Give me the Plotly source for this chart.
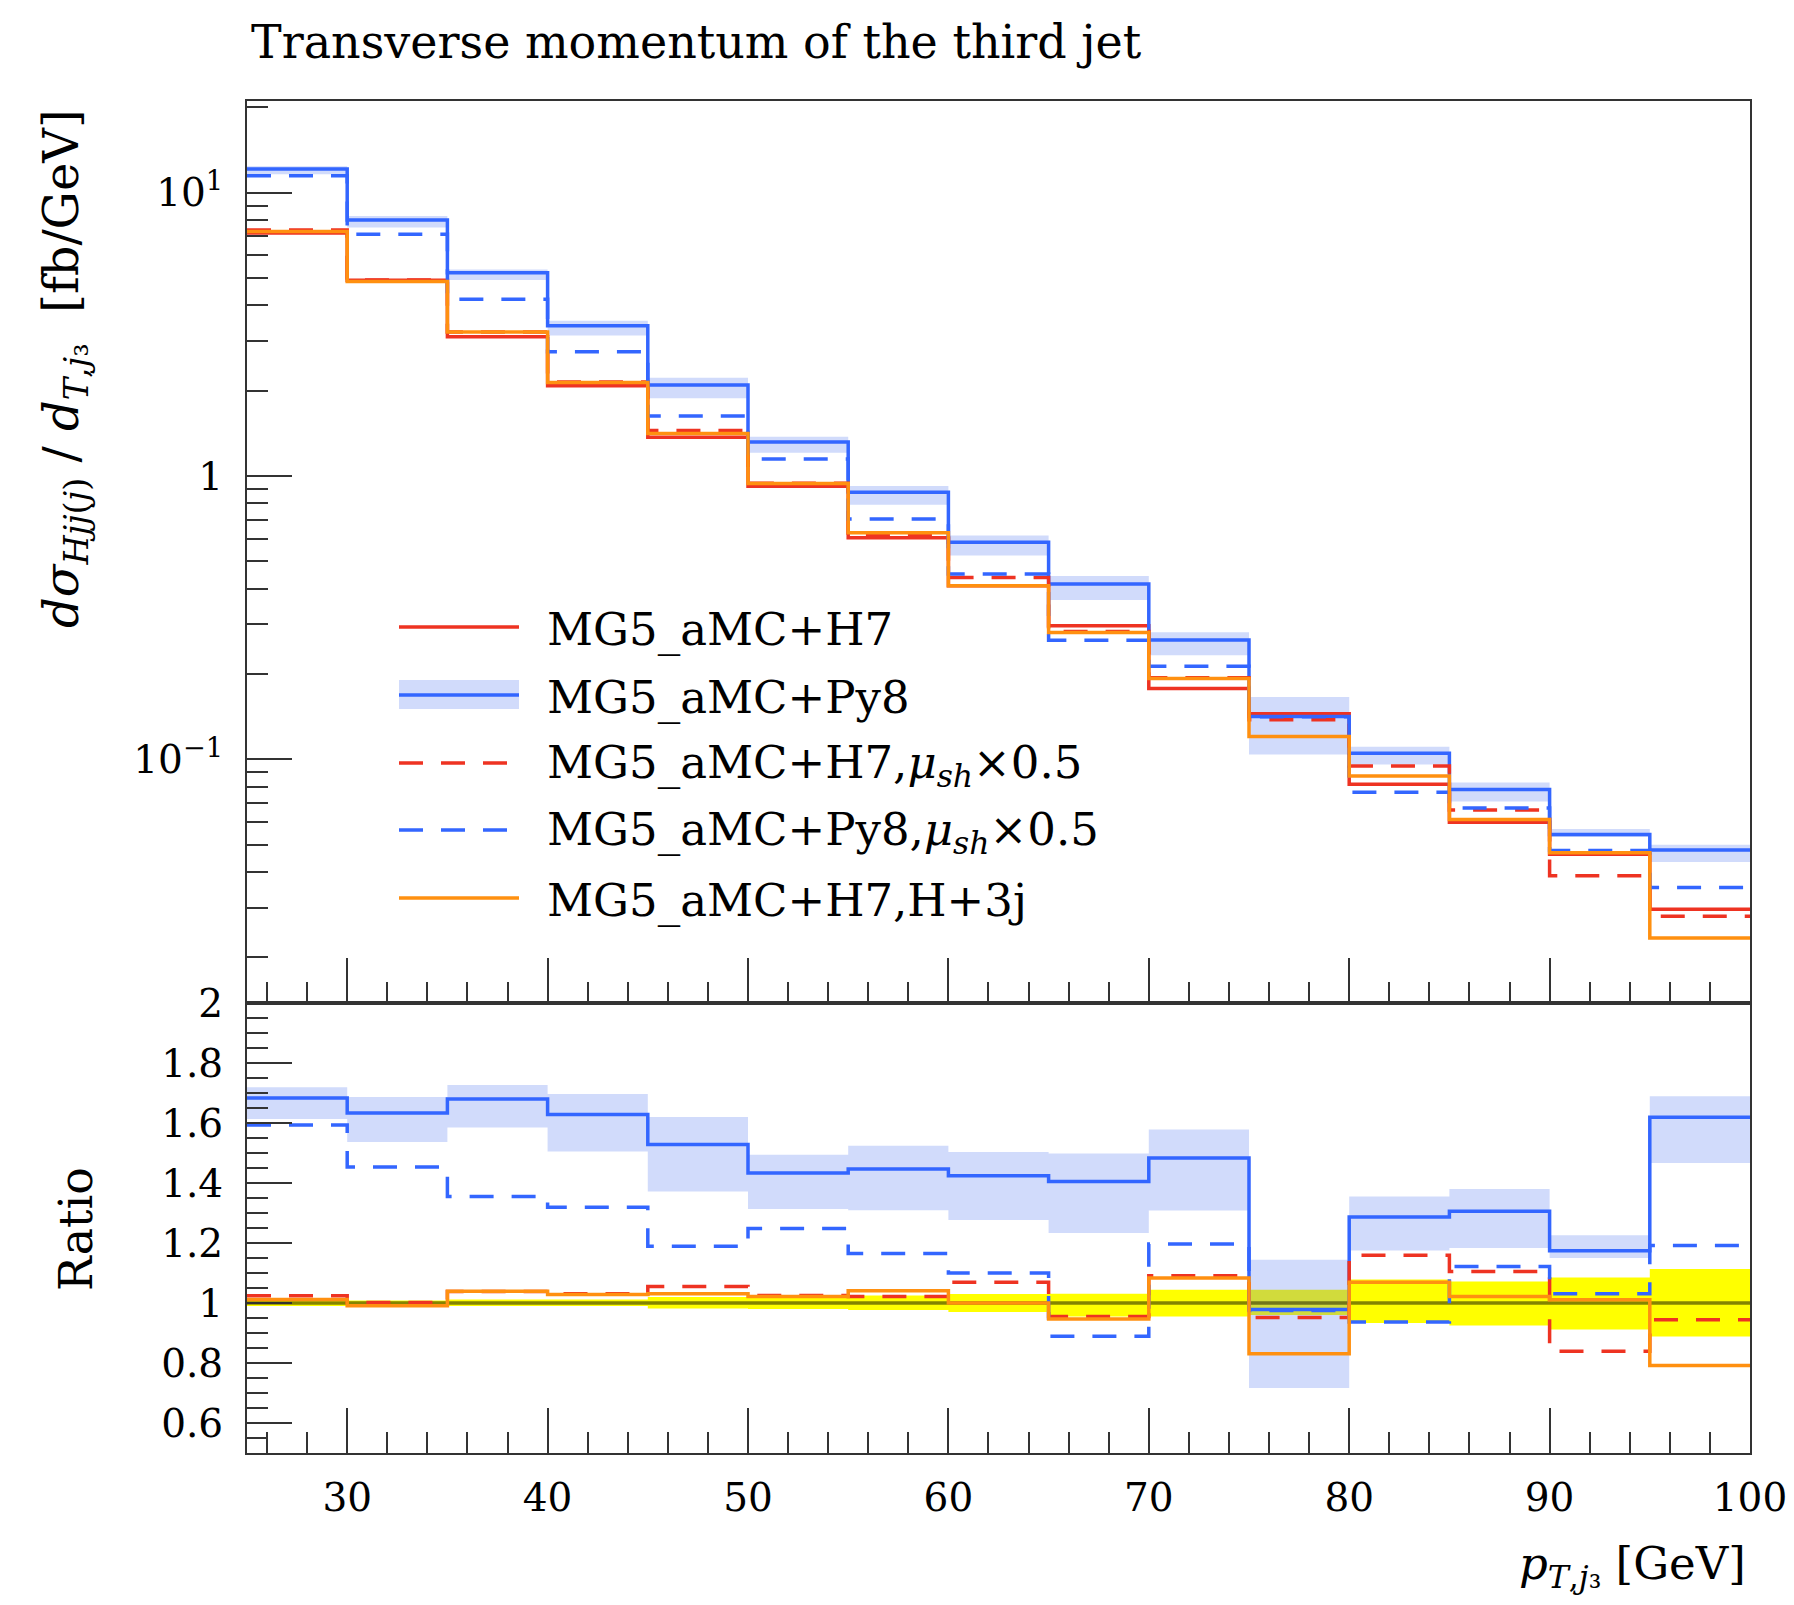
import plotly.graph_objects as go

# ---------------- data ----------------
bin_edges = [25, 30, 35, 40, 45, 50, 55, 60, 65, 70, 75, 80, 85, 90, 95, 100]

# MG5_aMC+H7 central prediction [fb/GeV]
h7 = [7.2, 4.9, 3.1, 2.08, 1.37, 0.92, 0.605, 0.41, 0.296, 0.178,
      0.145, 0.0817, 0.060, 0.0463, 0.0296]

# ratios to MG5_aMC+H7 (lower panel)
ratio_py8 = [1.683, 1.633, 1.680, 1.628, 1.528, 1.433, 1.447, 1.424, 1.405, 1.483,
             0.978, 1.287, 1.306, 1.174, 1.619]
ratio_py8_lo = [1.613, 1.537, 1.585, 1.505, 1.372, 1.313, 1.309, 1.277, 1.233, 1.308,
                0.717, 1.175, 1.183, 1.150, 1.467]
ratio_py8_hi = [1.719, 1.687, 1.727, 1.697, 1.620, 1.494, 1.524, 1.503, 1.498, 1.578,
                1.144, 1.355, 1.380, 1.226, 1.689]
ratio_h7_half = [1.024, 1.002, 1.038, 1.031, 1.055, 1.025, 1.022, 1.069, 0.955, 1.091,
                 0.952, 1.159, 1.105, 0.839, 0.944]
ratio_py8_half = [1.593, 1.453, 1.355, 1.319, 1.189, 1.248, 1.165, 1.100, 0.889, 1.197,
                  0.975, 0.937, 1.122, 1.031, 1.192]
ratio_h7_3j = [1.012, 0.991, 1.039, 1.028, 1.031, 1.022, 1.041, 1.000, 0.947, 1.083,
               0.831, 1.069, 1.022, 1.011, 0.792]
ratio_h7_lo = [0.990, 0.992, 0.990, 0.990, 0.982, 0.980, 0.977, 0.970, 0.955, 0.955,
               0.960, 0.933, 0.925, 0.912, 0.888]
ratio_h7_hi = [1.010, 1.008, 1.012, 1.012, 1.020, 1.020, 1.025, 1.030, 1.031, 1.044,
               1.044, 1.078, 1.072, 1.085, 1.113]

x_tick_vals = [30, 40, 50, 60, 70, 80, 90, 100]
x_tick_text = ["30", "40", "50", "60", "70", "80", "90", "100"]
y_tick_vals = [0.1, 1, 10]
y_tick_text = ["10<sup>−1</sup>", "1", "10<sup>1</sup>"]
r_tick_vals = [0.6, 0.8, 1.0, 1.2, 1.4, 1.6, 1.8, 2.0]
r_tick_text = ["0.6", "0.8", "1", "1.2", "1.4", "1.6", "1.8", "2"]

legend_labels = [
    "MG5_aMC+H7",
    "MG5_aMC+Py8",
    "MG5_aMC+H7,<i>μ</i><sub><i>sh</i></sub>×0.5",
    "MG5_aMC+Py8,<i>μ</i><sub><i>sh</i></sub>×0.5",
    "MG5_aMC+H7,H+3j",
]

# ---------------- styling ----------------
RED = "#EE3322"
BLUE = "#3366FF"
ORANGE = "#FF9010"
BAND_BLUE = "rgba(70,110,240,0.25)"
YELLOW = "#FFFF00"
FONT = "DejaVu Serif"
DASH = "24px,18px"
LW = 3.5

# the page body adds an 8px offset; figure sized so the plot area lands at
# x 247..1750, y 101..1453 in the 1794x1605 window
OFF = 8
W, H = 1794 - OFF, 1605 - OFF
PX0, PX1, PY0, PY1 = 247, 1750, 101, 1453
L, R, T, B = PX0 - OFF, (W + OFF) - PX1, PY0 - OFF, (H + OFF) - PY1
PW, PH = PX1 - PX0, PY1 - PY0
split = (PY1 - 1003) / PH


def px_x(X):
    return (X - PX0) / PW


def px_y(Y):
    return (PY1 - Y) / PH


def step(vals):
    return list(vals) + [vals[-1]]


def mul(a, b):
    return [u * v for u, v in zip(a, b)]


fig = go.Figure()

common = dict(mode="lines", line_shape="hv", showlegend=False, hoverinfo="skip")

# ---------------- upper panel ----------------
fig.add_trace(go.Scatter(x=bin_edges, y=step(mul(h7, ratio_py8_lo)), line=dict(width=0),
                         xaxis="x", yaxis="y", **common))
fig.add_trace(go.Scatter(x=bin_edges, y=step(mul(h7, ratio_py8_hi)), line=dict(width=0),
                         fill="tonexty", fillcolor=BAND_BLUE, xaxis="x", yaxis="y", **common))
fig.add_trace(go.Scatter(x=bin_edges, y=step(h7), line=dict(color=RED, width=LW),
                         xaxis="x", yaxis="y", **common))
fig.add_trace(go.Scatter(x=bin_edges, y=step(mul(h7, ratio_py8)), line=dict(color=BLUE, width=LW),
                         xaxis="x", yaxis="y", **common))
fig.add_trace(go.Scatter(x=bin_edges, y=step(mul(h7, ratio_h7_half)),
                         line=dict(color=RED, width=LW, dash=DASH), xaxis="x", yaxis="y", **common))
fig.add_trace(go.Scatter(x=bin_edges, y=step(mul(h7, ratio_py8_half)),
                         line=dict(color=BLUE, width=LW, dash=DASH), xaxis="x", yaxis="y", **common))
fig.add_trace(go.Scatter(x=bin_edges, y=step(mul(h7, ratio_h7_3j)), line=dict(color=ORANGE, width=LW),
                         xaxis="x", yaxis="y", **common))

# ---------------- ratio panel ----------------
fig.add_trace(go.Scatter(x=bin_edges, y=step(ratio_h7_lo), line=dict(width=0),
                         xaxis="x2", yaxis="y2", **common))
fig.add_trace(go.Scatter(x=bin_edges, y=step(ratio_h7_hi), line=dict(width=0), fill="tonexty",
                         fillcolor=YELLOW, xaxis="x2", yaxis="y2", **common))
fig.add_trace(go.Scatter(x=bin_edges, y=step(ratio_py8_lo), line=dict(width=0),
                         xaxis="x2", yaxis="y2", **common))
fig.add_trace(go.Scatter(x=bin_edges, y=step(ratio_py8_hi), line=dict(width=0), fill="tonexty",
                         fillcolor=BAND_BLUE, xaxis="x2", yaxis="y2", **common))
fig.add_trace(go.Scatter(x=bin_edges, y=step([v / v for v in h7]),
                         line=dict(color="rgba(50,50,0,0.6)", width=LW), xaxis="x2", yaxis="y2", **common))
fig.add_trace(go.Scatter(x=bin_edges, y=step(ratio_py8), line=dict(color=BLUE, width=LW),
                         xaxis="x2", yaxis="y2", **common))
fig.add_trace(go.Scatter(x=bin_edges, y=step(ratio_h7_half), line=dict(color=RED, width=LW, dash=DASH),
                         xaxis="x2", yaxis="y2", **common))
fig.add_trace(go.Scatter(x=bin_edges, y=step(ratio_py8_half), line=dict(color=BLUE, width=LW, dash=DASH),
                         xaxis="x2", yaxis="y2", **common))
fig.add_trace(go.Scatter(x=bin_edges, y=step(ratio_h7_3j), line=dict(color=ORANGE, width=LW),
                         xaxis="x2", yaxis="y2", **common))

# ---------------- axes ----------------
axis_common = dict(showline=True, linecolor="#333333", linewidth=2, mirror=True,
                   showgrid=False, zeroline=False, ticks="inside", tickcolor="#333333",
                   tickwidth=2, ticklen=45, automargin=False)
tickfont = dict(family=FONT, size=39, color="black")

minor_log = [m * 10.0 ** e for e in (-2, -1, 0, 1) for m in range(2, 10)]

fig.update_layout(
    xaxis=dict(domain=[0, 1], anchor="y", range=[25, 100], tickmode="array",
               tickvals=x_tick_vals, showticklabels=False, matches="x2",
               minor=dict(ticks="inside", ticklen=21, dtick=2, tick0=0, tickcolor="#333333", tickwidth=2),
               **axis_common),
    yaxis=dict(domain=[split, 1], anchor="x", type="log", range=[-1.8596, 1.323],
               tickmode="array", tickvals=y_tick_vals, ticktext=y_tick_text, tickfont=tickfont,
               ticklabelstandoff=14,
               minor=dict(ticks="inside", ticklen=21, tickmode="array", tickvals=minor_log,
                          tickcolor="#333333", tickwidth=2),
               **axis_common),
    xaxis2=dict(domain=[0, 1], anchor="y2", range=[25, 100], tickmode="array",
                tickvals=x_tick_vals, ticktext=x_tick_text, tickfont=tickfont,
                ticklabelstandoff=9,
                minor=dict(ticks="inside", ticklen=21, dtick=2, tick0=0, tickcolor="#333333", tickwidth=2),
                **axis_common),
    yaxis2=dict(domain=[0, split], anchor="x2", range=[0.5, 2.0001], tickmode="array",
                tickvals=r_tick_vals, ticktext=r_tick_text, tickfont=tickfont,
                ticklabelstandoff=14,
                minor=dict(ticks="inside", ticklen=21, dtick=0.05, tick0=0.5,
                           tickcolor="#333333", tickwidth=2),
                **axis_common),
)

# ---------------- legend (drawn manually) ----------------
row_y = [627, 695, 763, 830, 898]
styles = [
    dict(color=RED, dash="solid"),
    dict(color=BLUE, dash="solid"),
    dict(color=RED, dash=DASH),
    dict(color=BLUE, dash=DASH),
    dict(color=ORANGE, dash="solid"),
]
shapes = []
annotations = []
shapes.append(dict(type="rect", xref="paper", yref="paper", x0=px_x(399), x1=px_x(519),
                   y0=px_y(709), y1=px_y(680), fillcolor=BAND_BLUE, line=dict(width=0)))
for yy, st, lab in zip(row_y, styles, legend_labels):
    shapes.append(dict(type="line", xref="paper", yref="paper", x0=px_x(399), x1=px_x(519),
                       y0=px_y(yy), y1=px_y(yy), line=dict(color=st["color"], width=LW, dash=st["dash"])))
    annotations.append(dict(text=lab, xref="paper", yref="paper", x=px_x(545), y=px_y(yy + 2),
                            xanchor="left", yanchor="middle", showarrow=False,
                            font=dict(family=FONT, size=45, color="black")))

# title and axis titles
annotations.append(dict(text="Transverse momentum of the third jet", xref="paper", yref="paper",
                        x=px_x(249), y=px_y(42), xanchor="left", yanchor="middle", showarrow=False,
                        font=dict(family=FONT, size=46, color="black")))
annotations.append(dict(text="<i>dσ</i><sub><i>Hjj</i>(<i>j</i>)</sub> / <i>d</i><sub><i>T</i>,<i>j</i>₃</sub>  [fb/GeV]",
                        xref="paper", yref="paper", x=px_x(64), y=px_y(369), textangle=-90,
                        xanchor="center", yanchor="middle", showarrow=False,
                        font=dict(family=FONT, size=48, color="black")))
annotations.append(dict(text="Ratio", xref="paper", yref="paper", x=px_x(76), y=px_y(1229),
                        textangle=-90, xanchor="center", yanchor="middle", showarrow=False,
                        font=dict(family=FONT, size=46, color="black")))
annotations.append(dict(text="<i>p</i><sub><i>T</i>,<i>j</i>₃</sub> [GeV]", xref="paper", yref="paper",
                        x=px_x(1748), y=px_y(1566), xanchor="right", yanchor="middle", showarrow=False,
                        font=dict(family=FONT, size=45, color="black")))

fig.update_layout(
    width=W, height=H,
    margin=dict(l=L, r=R, t=T, b=B, autoexpand=False),
    paper_bgcolor="white", plot_bgcolor="white",
    showlegend=False,
    shapes=shapes, annotations=annotations,
    font=dict(family=FONT, color="black"),
)

fig.write_html("out.html")
